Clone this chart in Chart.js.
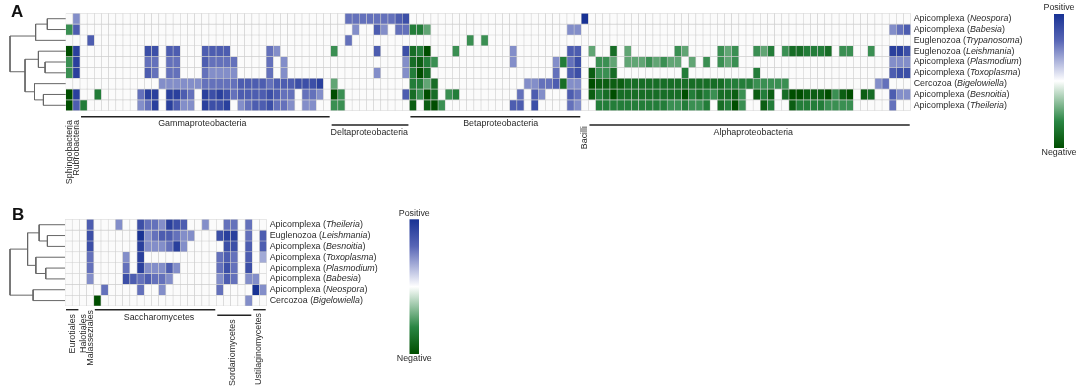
<!DOCTYPE html>
<html>
<head>
<meta charset="utf-8">
<style>
    html, body { margin: 0; padding: 0; background: #fff; }
    canvas { position: absolute; left: 0; top: 0; filter: blur(0.45px); }
</style>
<script src="https://cdn.jsdelivr.net/npm/chart.js@4"></script>
</head>
<body>
<canvas id="heatA" width="1080" height="391"></canvas>
<canvas id="treeA" width="1080" height="391"></canvas>
<canvas id="heatB" width="1080" height="391"></canvas>
<canvas id="treeB" width="1080" height="391"></canvas>
<script>
// row names, top to bottom
var phylaA = ['Apicomplexa', 'Apicomplexa', 'Euglenozoa', 'Euglenozoa', 'Apicomplexa', 'Apicomplexa', 'Cercozoa', 'Apicomplexa', 'Apicomplexa'];
var generaA = ['Neospora', 'Babesia', 'Trypanosoma', 'Leishmania', 'Plasmodium', 'Toxoplasma', 'Bigelowiella', 'Besnoitia', 'Theileria'];
var phylaB = ['Apicomplexa', 'Euglenozoa', 'Apicomplexa', 'Apicomplexa', 'Apicomplexa', 'Apicomplexa', 'Apicomplexa', 'Cercozoa'];
var generaB = ['Theileria', 'Leishmania', 'Besnoitia', 'Toxoplasma', 'Plasmodium', 'Babesia', 'Neospora', 'Bigelowiella'];

var columnCountA = 118;
var columnCountB = 28;

// each row is a list of runs: [first column, value, value, ...], -9 (negative) to 9 (positive), the rest is 0
var neosporaA = [[1, 4], [39, 5, 5, 5, 5, 5, 5, 5, 6, 7], [72, 9]];
var babesiaA = [[0, -5, 6], [40, 4], [43, 6, 4], [46, 5, 5, -6, -6, -4], [70, 4, 4], [115, 4, 5, 6]];
var trypanosomaA = [[3, 6], [39, 5], [56, -5], [58, -5]];
var leishmaniaA = [[0, -9, 8], [11, 7, 7], [14, 6, 6], [19, 6, 6, 6, 6], [28, 5, 4], [37, -5], [43, 6], [47, 7, -7, -6, -9], [54, -5], [62, 4], [70, 6, 6], [73, -4], [76, -7], [78, -4], [85, -5, -4], [91, -5, -4, -5], [96, -5, -4, -6], [100, -5, -7, -7, -6, -6, -6, -7], [108, -5, -5], [112, -5], [115, 8, 8, 7]];
var plasmodiumA = [[0, -5, 8], [11, 5, 5], [14, 5, 5], [19, 6, 5, 5, 5, 5], [28, 5], [30, 4], [47, 4, -7, -8, -6, -5], [62, 4], [68, 4, -6, 5, 7], [74, -5, -5, -4], [78, -4, -4, -4, -5, -4, -5, -4, -4], [87, -4], [89, -5], [91, -5, -4, -5], [115, 4, 4, 4]];
var toxoplasmaA = [[0, -5, 8], [11, 6, 5], [14, 5, 5], [19, 5, 4, 4, 4, 4], [28, 5], [30, 4], [43, 4], [47, 4, -6, -9, -7], [68, 5], [70, 6, 7], [73, -8, -5, -5, -7], [86, -6], [96, -6], [115, 6, 7, 7]];
var bigelowiellaA = [[13, 4, 4, 4, 4, 4, 4, 5, 5, 5, 5, 5, 6, 6, 6, 6, 5, 6, 6, 6, 7, 7, 7, 8], [37, -4], [48, -6, -6, -4, -7], [64, 4, 4, 5, 5, 6, -7, 4, 4], [73, -9, -8, -8, -8, -8, -7, -7, -7, -7, -7, -7, -7, -7, -7, -7, -7, -7, -7, -7, -6, -6, -6, -6, -5, -5, -5, -5, -5], [113, 4, 5]];
var besnoitiaA = [[0, -9, 8], [4, -6], [10, 5, 8, 8], [14, 8, 8, 6, 5], [19, 8, 7, 8, 7, 5, 6, 6, 6, 6, 7, 6, 5, 5], [33, 5, 5, 4], [37, -9, -5], [47, 6, -7, -5, -9, -7], [53, -5, -6], [63, 5], [65, 6, 4], [70, 6, 5], [73, -8, -6, -7, -9, -7, -7, -7, -7, -7, -7, -7, -7, -7, -9, -6, -7, -6, -5, -7, -7, -8, -5], [96, -8, -6, -8], [100, -7, -9, -9, -8, -8, -8, -9, -5, -8, -9], [111, -8, -7], [115, 6, 4, 4]];
var theileriaA = [[0, -9, 6, -6], [10, 4, 5, 8], [14, 8, 6, 4, 4], [19, 8, 7, 7, 8], [24, 4, 5, 6, 6, 7, 5, 5, 4], [33, 4, 4], [37, -5, -5], [48, -8], [50, -8, -9, -5], [62, 6, 6], [65, 7], [70, 5, 4], [74, -6, -6, -6, -6, -6, -6, -6, -6, -6, -6, -5, -5, -6, -5, -5, -6], [91, -7, -6, -9, -5], [97, -8, -6], [101, -8, -6, -6, -6, -6, -5, -5, -5, -5], [115, 5]];

var theileriaB = [[3, 6], [7, 4], [10, 7, 5, 5, 4, 8, 7, 6], [19, 4], [22, 5, 5], [25, 5]];
var leishmaniaB = [[3, 7], [10, 9, 4, 5, 6, 6, 5, 4, 4], [21, 7, 8, 8], [25, 5], [27, 6]];
var besnoitiaB = [[3, 7], [10, 8, 4, 4, 4, 5, 8, 4], [22, 7, 7], [25, 6], [27, 6]];
var toxoplasmaB = [[3, 5], [8, 4], [10, 8], [21, 5, 6, 5], [25, 6], [27, 3]];
var plasmodiumB = [[3, 5], [8, 5], [10, 8, 4, 4, 4, 6, 4], [21, 5, 7, 5], [25, 7]];
var babesiaB = [[3, 4], [8, 7, 6, 5, 6, 5, 5, 4], [21, 4, 6, 5], [25, 4, 4]];
var neosporaB = [[5, 5], [10, 5], [13, 4], [21, 5], [26, 9, 4]];
var bigelowiellaB = [[4, -9], [25, 4]];

var rowsA = [neosporaA, babesiaA, trypanosomaA, leishmaniaA, plasmodiumA, toxoplasmaA, bigelowiellaA, besnoitiaA, theileriaA];
var rowsB = [theileriaB, leishmaniaB, besnoitiaB, toxoplasmaB, plasmodiumB, babesiaB, neosporaB, bigelowiellaB];

// taxon groups under the columns: name, first column, column after the last
var groupNamesA = ['Sphingobacteria', 'Rubrobacteria', 'Gammaproteobacteria', 'Deltaproteobacteria', 'Betaproteobacteria', 'Bacilli', 'Alphaproteobacteria'];
var groupStartsA = [0, 1, 2, 37, 48, 72, 73];
var groupEndsA = [1, 2, 37, 48, 72, 73, 118];
var groupNamesB = ['Eurotiales', 'Halotiales', 'Malasseziales', 'Saccharomycetes', 'Sordariomycetes', 'Ustilaginomycetes'];
var groupStartsB = [0, 2, 3, 4, 21, 26];
var groupEndsB = [2, 3, 4, 21, 26, 28];

// dendrograms: each merge is a path of [distance, row position], 0 = leaf, 1 = root
var treeMergesA = [
    [[0, 0.5], [0.33, 0.5], [0.33, 1.5], [0, 1.5]],
    [[0.33, 1], [0.54, 1], [0.54, 2.5], [0, 2.5]],
    [[0, 4.5], [0.37, 4.5], [0.37, 5.5], [0, 5.5]],
    [[0, 3.5], [0.49, 3.5], [0.49, 5], [0.37, 5]],
    [[0, 7.5], [0.40, 7.5], [0.40, 8.5], [0, 8.5]],
    [[0, 6.5], [0.56, 6.5], [0.56, 8], [0.40, 8]],
    [[0.49, 4.25], [0.73, 4.25], [0.73, 7.25], [0.56, 7.25]],
    [[0.54, 2.1], [1, 2.1], [1, 5.4], [0.73, 5.4]]
];
var treeMergesB = [
    [[0, 1.5], [0.32, 1.5], [0.32, 2.5], [0, 2.5]],
    [[0, 0.5], [0.47, 0.5], [0.47, 2], [0.32, 2]],
    [[0, 4.5], [0.35, 4.5], [0.35, 5.5], [0, 5.5]],
    [[0, 3.5], [0.53, 3.5], [0.53, 5], [0.35, 5]],
    [[0.47, 1.25], [0.68, 1.25], [0.68, 4.25], [0.53, 4.25]],
    [[0, 6.5], [0.58, 6.5], [0.58, 7.5], [0, 7.5]],
    [[0.68, 2.75], [1, 2.75], [1, 7], [0.58, 7]]
];

var fontFamily = '"Liberation Sans", Arial, sans-serif';
var textColor = '#2a2a2a';

function expandRow(runs, count) {
    var cells = new Array(count).fill(0);
    runs.forEach(function (run) {
        run.slice(1).forEach(function (value, i) {
            cells[run[0] + i] = value;
        });
    });
    return cells;
}

function mix(a, b, t) {
    return [0, 1, 2].map(function (i) { return Math.round(a[i] + (b[i] - a[i]) * t); });
}

// white -> mid -> dark, same ramp as the colour bars
var blueStops = [[255, 255, 255], [88, 102, 182], [24, 50, 148]];
var greenStops = [[255, 255, 255], [42, 134, 68], [0, 78, 0]];

function cellColor(value) {
    if (value === 0) return '#fbfbfb';
    var stops = value > 0 ? blueStops : greenStops;
    var t = Math.abs(value) / 9;
    var c = t < 0.6 ? mix(stops[0], stops[1], t / 0.6) : mix(stops[1], stops[2], (t - 0.6) / 0.4);
    return 'rgb(' + c.join(',') + ')';
}

// labels, brackets and colour bar around a heat map
var panelDecor = {
    id: 'panelDecor',
    afterDraw: function (chart, args, opts) {
        var ctx = chart.ctx;
        var x = chart.scales.x;
        var y = chart.scales.y;
        var step = x.width / opts.columnCount;
        ctx.save();
        ctx.fillStyle = '#111';

        // panel letter
        ctx.font = 'bold 17px ' + fontFamily;
        ctx.textAlign = 'left';
        ctx.textBaseline = 'middle';
        ctx.fillText(opts.letter, opts.letterX, opts.letterY);
        ctx.fillStyle = textColor;

        // row labels with italic genus
        opts.phyla.forEach(function (phylum, i) {
            var px = x.right + 3;
            var py = y.getPixelForValue(i + 0.5);
            var parts = [phylum + ' (', opts.genera[i], ')'];
            parts.forEach(function (part, k) {
                ctx.font = (k === 1 ? 'italic ' : '') + opts.fontSize + 'px ' + fontFamily;
                ctx.fillText(part, px, py);
                px += ctx.measureText(part).width;
            });
        });

        // group brackets and labels
        ctx.font = opts.fontSize + 'px ' + fontFamily;
        opts.groupNames.forEach(function (name, i) {
            var left = x.getPixelForValue(opts.groupStarts[i]) - step / 2;
            var right = x.getPixelForValue(opts.groupEnds[i] - 1) + step / 2;
            var place = opts.groupPlaces[i];
            if (place.bar) {
                ctx.strokeStyle = '#222';
                ctx.lineWidth = 1.4;
                ctx.beginPath();
                ctx.moveTo(left + 1, place.bar);
                ctx.lineTo(right - 1, place.bar);
                ctx.stroke();
            }
            var cx = place.x !== undefined ? place.x : (left + right) / 2;
            if (place.vertical) {
                ctx.save();
                ctx.translate(cx, place.y);
                ctx.rotate(-Math.PI / 2);
                ctx.textAlign = 'right';
                ctx.fillText(name, 0, 0);
                ctx.restore();
            } else {
                ctx.textAlign = 'center';
                ctx.fillText(name, cx, place.y);
            }
        });

        // colour bar
        var bar = opts.colorBar;
        var grad = ctx.createLinearGradient(0, bar.top, 0, bar.bottom);
        grad.addColorStop(0, 'rgb(' + blueStops[2].join(',') + ')');
        grad.addColorStop(0.2, 'rgb(' + blueStops[1].join(',') + ')');
        grad.addColorStop(0.5, '#ffffff');
        grad.addColorStop(0.8, 'rgb(' + greenStops[1].join(',') + ')');
        grad.addColorStop(1, 'rgb(' + greenStops[2].join(',') + ')');
        ctx.fillStyle = grad;
        ctx.fillRect(bar.left, bar.top, bar.right - bar.left, bar.bottom - bar.top);
        ctx.fillStyle = textColor;
        ctx.textAlign = 'center';
        ctx.fillText('Positive', (bar.left + bar.right) / 2, bar.top - 6);
        ctx.fillText('Negative', (bar.left + bar.right) / 2, bar.bottom + 5);
        ctx.restore();
    }
};

function drawHeat(id, rows, columnCount, padding, decor) {
    var columns = [];
    for (var c = 0; c < columnCount; c++) columns.push(c);
    var datasets = rows.map(function (runs) {
        var cells = expandRow(runs, columnCount);
        return {
            data: cells.map(function () { return 1; }),
            backgroundColor: cells.map(cellColor),
            borderColor: '#cecece',
            borderWidth: 0.6,
            borderSkipped: false,
            barPercentage: 1,
            categoryPercentage: 1
        };
    });
    decor.columnCount = columnCount;
    return new Chart(document.getElementById(id), {
        type: 'bar',
        data: { labels: columns, datasets: datasets },
        plugins: [panelDecor],
        options: {
            responsive: false,
            animation: false,
            layout: { padding: padding },
            plugins: { legend: { display: false }, tooltip: { enabled: false }, panelDecor: decor },
            scales: {
                x: { stacked: true, display: false },
                y: { stacked: true, display: false, reverse: true, min: 0, max: rows.length }
            }
        }
    });
}

function drawTree(id, merges, rowCount, padding) {
    return new Chart(document.getElementById(id), {
        type: 'scatter',
        data: {
            datasets: merges.map(function (path) {
                return {
                    data: path.map(function (p) { return { x: p[0], y: p[1] }; }),
                    showLine: true,
                    pointRadius: 0,
                    borderColor: '#666',
                    borderWidth: 1,
                    tension: 0,
                    clip: false
                };
            })
        },
        options: {
            responsive: false,
            animation: false,
            layout: { padding: padding },
            plugins: { legend: { display: false }, tooltip: { enabled: false } },
            scales: {
                x: { display: false, reverse: true, min: 0, max: 1 },
                y: { display: false, reverse: true, min: 0, max: rowCount }
            }
        }
    });
}

document.addEventListener('DOMContentLoaded', function () {
    drawHeat('heatA', rowsA, columnCountA, { left: 65.7, right: 169.3, top: 13.3, bottom: 280.3 }, {
        letter: 'A', letterX: 11, letterY: 12, fontSize: 8.9,
        phyla: phylaA, genera: generaA,
        groupNames: groupNamesA, groupStarts: groupStartsA, groupEnds: groupEndsA,
        groupPlaces: [
            { vertical: true, y: 120 },
            { vertical: true, y: 120 },
            { bar: 116.7, x: 202.3, y: 124 },
            { bar: 125, x: 369.3, y: 132.5 },
            { bar: 116.7, x: 500.7, y: 124 },
            { vertical: true, y: 126 },
            { bar: 125, x: 753.3, y: 132.5 }
        ],
        colorBar: { left: 1054, right: 1064, top: 14, bottom: 148 }
    });
    drawTree('treeA', treeMergesA, rowsA.length, { left: 10, right: 1014.3, top: 13.3, bottom: 280.3 });

    drawHeat('heatB', rowsB, columnCountB, { left: 65, right: 813.3, top: 219.3, bottom: 85 }, {
        letter: 'B', letterX: 12, letterY: 215, fontSize: 8.9,
        phyla: phylaB, genera: generaB,
        groupNames: groupNamesB, groupStarts: groupStartsB, groupEnds: groupEndsB,
        groupPlaces: [
            { bar: 309.7, vertical: true, x: 72.7, y: 314 },
            { vertical: true, x: 84, y: 314 },
            { vertical: true, x: 90.7, y: 310 },
            { bar: 309.7, x: 159, y: 317.7 },
            { bar: 315.3, vertical: true, x: 233, y: 319.3 },
            { bar: 309.7, vertical: true, x: 258.3, y: 313 }
        ],
        colorBar: { left: 409.5, right: 419, top: 219.3, bottom: 354 }
    });
    drawTree('treeB', treeMergesB, rowsB.length, { left: 10, right: 1015, top: 219.3, bottom: 85 });
});
</script>
</body>
</html>
